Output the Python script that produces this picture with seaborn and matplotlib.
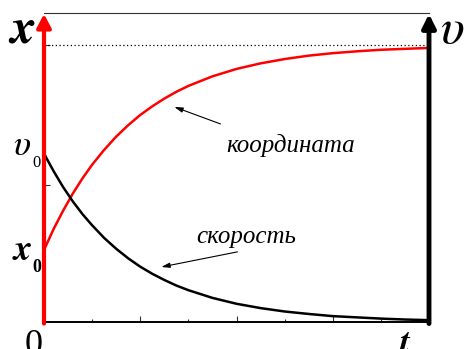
import numpy as np
import pandas as pd
import matplotlib
matplotlib.use("Agg")
import matplotlib.pyplot as plt
import seaborn as sns

# values (time in tick units, height as fraction of the axis)
t = [0, 0.2, 0.4, 0.6, 0.8, 1.0, 1.25, 1.5, 1.75, 2.0, 2.25, 2.5, 2.75,
     3.0, 3.5, 4.0, 4.5, 5.0, 5.5, 6.0, 6.5, 7.0, 7.5, 8.0]
coordinate = [0.233, 0.301, 0.361, 0.416, 0.465, 0.509, 0.557, 0.600, 0.637,
              0.670, 0.698, 0.723, 0.745, 0.764, 0.795, 0.819, 0.837, 0.851,
              0.862, 0.870, 0.876, 0.881, 0.884, 0.887]
speed = [0.545, 0.488, 0.436, 0.390, 0.349, 0.313, 0.272, 0.237, 0.206,
         0.179, 0.156, 0.136, 0.118, 0.103, 0.078, 0.059, 0.045, 0.034,
         0.026, 0.019, 0.015, 0.011, 0.008, 0.006]
x_limit = 0.896
y_ticks = [0.443, 0.896]
x_major = [2, 4, 6]
x_minor = [1, 3, 5, 7]

df = pd.DataFrame({"t": t, "coordinate": coordinate, "speed": speed})

sns.set_style("white")
plt.rcParams["font.family"] = ["Liberation Serif", "DejaVu Serif"]
plt.rcParams["mathtext.fontset"] = "stix"
plt.rcParams["text.color"] = "black"

fig = plt.figure(figsize=(4.65, 3.49), dpi=100)
ax = fig.add_axes([44 / 465, 27 / 349, 385 / 465, 309 / 349])

sns.lineplot(data=df, x="t", y="coordinate", color="red", lw=1.8, ax=ax)
sns.lineplot(data=df, x="t", y="speed", color="black", lw=1.8, ax=ax)
ax.axhline(x_limit, color="black", lw=0.9, ls=(0, (1, 2)))

ax.set_xlim(0, 8)
ax.set_ylim(0, 1)
ax.set_xlabel("")
ax.set_ylabel("")

for side in ["left", "right"]:
    ax.spines[side].set_visible(False)
ax.spines["top"].set_linewidth(0.8)
ax.spines["top"].set_color("#333333")
ax.spines["bottom"].set_linewidth(1.4)
ax.spines["bottom"].set_color("black")

ax.set_xticks(x_major)
ax.set_xticks(x_minor, minor=True)
ax.set_yticks(y_ticks)
ax.tick_params(axis="x", which="major", direction="in", length=4.3, width=0.8,
               color="#333333", labelbottom=False, bottom=True)
ax.tick_params(axis="x", which="minor", direction="in", length=2.2, width=0.8,
               color="#333333", bottom=True)
ax.tick_params(axis="y", direction="in", length=4.5, width=0.8,
               color="#333333", labelleft=False, left=True)

# axis arrows
ax.annotate("", xy=(0, 0.997), xytext=(0, -0.005), xycoords="axes fraction",
            annotation_clip=False,
            arrowprops=dict(arrowstyle="-|>,head_width=0.42,head_length=0.8",
                            color="red", lw=3, shrinkA=0, shrinkB=0,
                            mutation_scale=10))
ax.annotate("", xy=(1, 0.997), xytext=(1, -0.005), xycoords="axes fraction",
            annotation_clip=False,
            arrowprops=dict(arrowstyle="-|>,head_width=0.4,head_length=0.8",
                            color="black", lw=3.5, shrinkA=0, shrinkB=0,
                            mutation_scale=10))

# axis names and marks
ax.text(-0.058, 0.906, r"$\mathbfit{x}$", transform=ax.transAxes, ha="center",
        va="baseline", fontsize=36, clip_on=False)
ax.text(1.060, 0.903, r"$\upsilon$", transform=ax.transAxes, ha="center",
        va="baseline", fontsize=36, clip_on=False)
ax.text(-0.057, 0.540, r"$\upsilon$", transform=ax.transAxes, ha="center",
        va="baseline", fontsize=26, clip_on=False)
ax.text(-0.020, 0.502, "0", transform=ax.transAxes, ha="center", va="baseline",
        fontsize=12, clip_on=False)
ax.text(-0.057, 0.201, r"$\mathbfit{x}$", transform=ax.transAxes, ha="center",
        va="baseline", fontsize=26, clip_on=False)
ax.text(-0.019, 0.162, "0", transform=ax.transAxes, ha="center", va="baseline",
        fontsize=13, fontweight="bold", clip_on=False)
ax.text(-0.219, -0.105, "0", ha="center", va="baseline", fontsize=26,
        transform=ax.get_xaxis_transform(), clip_on=False)
ax.text(7.5, -0.105, r"$\mathbfit{t}$", ha="center", va="baseline", fontsize=26,
        transform=ax.get_xaxis_transform(), clip_on=False)

# curve labels with pointers
ax.text(5.125, 0.570, "координата", ha="center", va="center", fontsize=18,
        style="italic")
ax.annotate("", xy=(2.708, 0.696), xytext=(3.667, 0.641),
            arrowprops=dict(arrowstyle="-|>,head_width=0.15,head_length=0.5",
                            color="black", lw=0.8, shrinkA=0, shrinkB=0))
ax.text(4.21, 0.275, "скорость", ha="center", va="center", fontsize=18,
        style="italic")
ax.annotate("", xy=(2.4375, 0.178), xytext=(4.02, 0.227),
            arrowprops=dict(arrowstyle="-|>,head_width=0.15,head_length=0.5",
                            color="black", lw=0.8, shrinkA=0, shrinkB=0))

fig.savefig("out.png", dpi=100)
